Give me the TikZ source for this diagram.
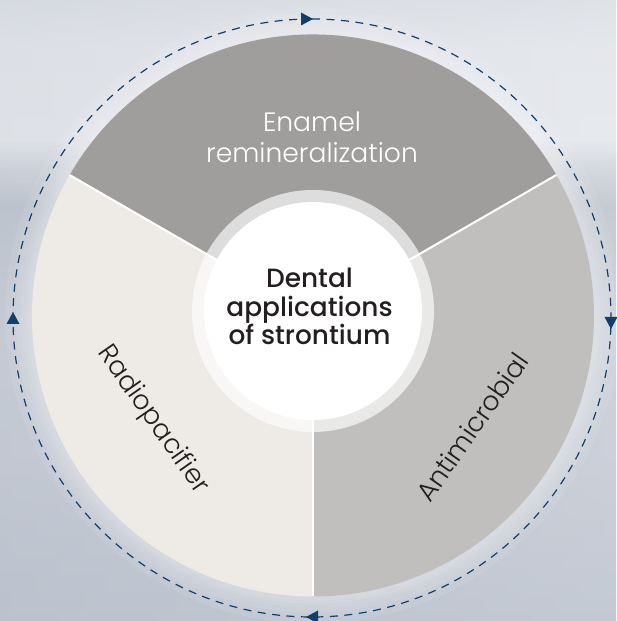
\documentclass[tikz,border=0pt]{standalone}
\usepackage{fontspec}
\setmainfont{Poppins}
\newfontfamily\poplight{Poppins Light}
\newfontfamily\popmed{Poppins Medium}
\usetikzlibrary{arrows.meta}
\definecolor{bgA}{HTML}{E3E6EA}
\definecolor{bgB}{HTML}{ECEEF2}
\definecolor{bgC}{HTML}{EEF0F3}
\definecolor{bgD}{HTML}{D3D7DE}
\definecolor{bgE}{HTML}{BFC5CE}
\definecolor{bgF}{HTML}{C4CAD3}
\definecolor{bgG}{HTML}{CACFD8}
\definecolor{bgH}{HTML}{C7CCD6}
\definecolor{bgI}{HTML}{BCC3CE}
\definecolor{bgdark}{HTML}{B9C0CB}
\definecolor{bglight}{HTML}{D6DAE1}
\definecolor{enamelc}{HTML}{9F9E9C}
\definecolor{antic}{HTML}{C0BFBD}
\definecolor{radioc}{HTML}{EEEAE6}
\definecolor{txtc}{HTML}{231F20}
\definecolor{flowc}{HTML}{123E6C}
\tikzset{
  bgstrip/.style={draw=none},
  glowring/.style={white, opacity=0.07},
  sectorline/.style={white, line width=2pt},
  flowline/.style={flowc, line width=1.2pt, dash pattern=on 8pt off 6.5pt},
  flowtip/.style={fill=flowc, draw=none},
  lighttext/.style={font=\poplight\fontsize{26.6}{31}\selectfont, inner sep=0pt, align=center},
  centertext/.style={font=\popmed\fontsize{26.4}{28.3}\selectfont, text=txtc, inner sep=0pt, align=center}
}
\begin{document}
\begin{tikzpicture}[x=1pt,y=1pt]
\useasboundingbox (0,0) rectangle (616,621);
% background
\shade[bgstrip, top color=bgA, bottom color=bgB] (0,621) rectangle (616,571);
\shade[bgstrip, top color=bgB, bottom color=bgC] (0,571.2) rectangle (616,481);
\shade[bgstrip, top color=bgC, bottom color=bgD] (0,481.2) rectangle (616,451);
\shade[bgstrip, top color=bgD, bottom color=bgE] (0,451.2) rectangle (616,416);
\shade[bgstrip, top color=bgE, bottom color=bgF] (0,416.2) rectangle (616,361);
\shade[bgstrip, top color=bgF, bottom color=bgG] (0,361.2) rectangle (616,291);
\shade[bgstrip, top color=bgG, bottom color=bgH] (0,291.2) rectangle (616,171);
\shade[bgstrip, top color=bgH, bottom color=bgI] (0,171.2) rectangle (616,0);
\shade[bgstrip, left color=bgdark, right color=bglight, fill opacity=0.3] (0,0) rectangle (616,621);
% glow
\coordinate (C) at (313,305.5);
\foreach \r in {308,302,297,292,288,285}{
  \fill[glowring] (C) circle (\r);
}
% sectors
\fill[enamelc] (C) -- ++(30:281) arc[start angle=30, end angle=150, radius=281] -- cycle;
\fill[antic] (C) -- ++(-90:281) arc[start angle=-90, end angle=30, radius=281] -- cycle;
\fill[radioc] (C) -- ++(150:281) arc[start angle=150, end angle=270, radius=281] -- cycle;
\draw[sectorline] (C) -- ++(30:281);
\draw[sectorline] (C) -- ++(150:281);
\draw[sectorline] (C) -- ++(270:281);
% hub
\coordinate (H) at (313,310);
\fill[white, opacity=0.66] (H) circle (121);
\fill[white] (H) circle (109);
% flow circle
\draw[flowline] (312,602) arc[start angle=90, end angle=-270, radius=299];
\fill[flowtip] (301,608.5) -- (301,595.5) -- (313,602) -- cycle;
\fill[flowtip] (604.5,304) -- (617.5,304) -- (611,292) -- cycle;
\fill[flowtip] (318,10.5) -- (318,-2.5) -- (306,4) -- cycle;
\fill[flowtip] (6.5,297) -- (19.5,297) -- (13,309) -- cycle;
% texts
\node[lighttext, text=white] (enamel) at (312,483.5) {Enamel\\remineralization};
\node[centertext] (hubtext) at (309.5,314.5) {Dental\\applications\\of strontium};
\node[lighttext, text=txtc, rotate=-55] (radio) at (153,201) {Radiopacifier};
\node[lighttext, text=txtc, rotate=55] (anti) at (472,194) {Antimicrobial};
\end{tikzpicture}
\end{document}
